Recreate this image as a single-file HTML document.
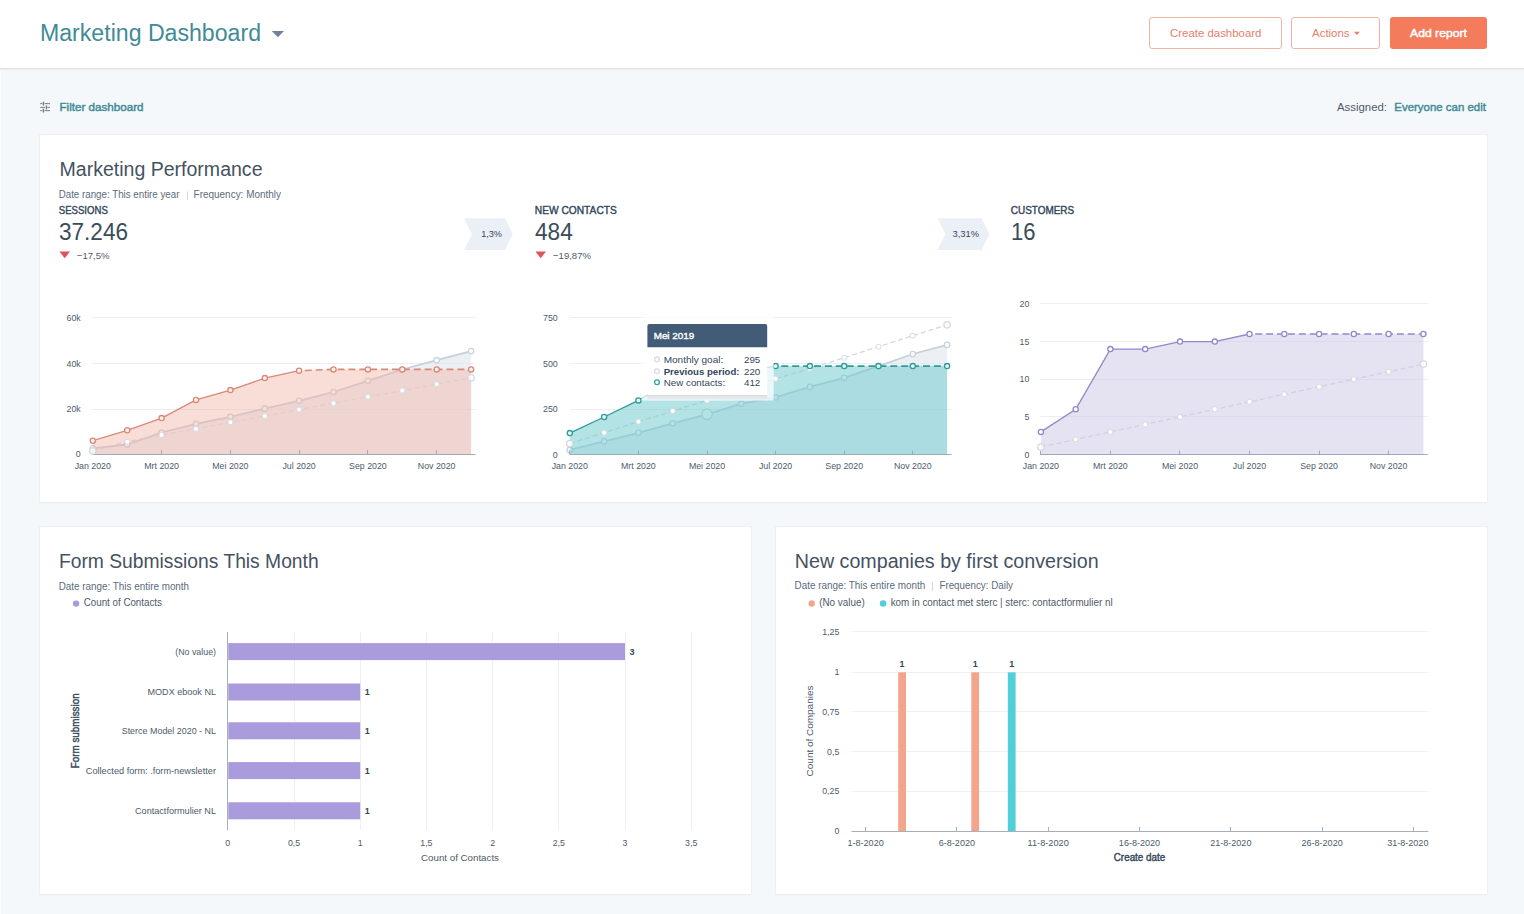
<!DOCTYPE html>
<html><head><meta charset="utf-8"><title>Marketing Dashboard</title>
<style>
*{margin:0;padding:0;box-sizing:border-box}
html,body{width:1524px;height:914px;overflow:hidden;background:#f5f8fa;font-family:"Liberation Sans", sans-serif}
.hdr{position:absolute;left:0;top:0;width:1524px;height:69px;background:#fff;border-bottom:1px solid #e0e4e8;box-shadow:0 1px 0 #ebeef1}
.card{position:absolute;background:#fff;box-shadow:0 0 0 1px #edf0f3, 0 1px 1px 0 rgba(45,62,80,.07)}
.btn{position:absolute;top:17px;height:32px;border-radius:3px}
.btn.o{border:1px solid #f0b4a4;background:#fff}
.btn.f{background:#f47b5b}
svg{position:absolute;left:0;top:0}
</style></head>
<body>
<div class="hdr"></div>
<div style="position:absolute;left:0;top:70px;width:1px;height:844px;background:#fbfdfd"></div>
<div class="card" style="left:40px;top:135px;width:1447px;height:367px"></div>
<div class="card" style="left:40px;top:527px;width:711px;height:367px"></div>
<div class="card" style="left:776px;top:527px;width:711px;height:367px"></div>
<div class="btn o" style="left:1149px;width:133px"></div>
<div class="btn o" style="left:1291px;width:89px"></div>
<div class="btn f" style="left:1390px;width:97px"></div>
<svg width="1524" height="914" viewBox="0 0 1524 914" font-family='"Liberation Sans", sans-serif'>
<text x="40.0" y="41.0" font-size="23" fill="#3f8b96" textLength="221.0" lengthAdjust="spacingAndGlyphs">Marketing Dashboard</text>
<polygon points="271.8,31 284,31 277.9,37.3" fill="#6f8196"/>
<line x1="40.2" y1="103.6" x2="42.1" y2="103.6" stroke="#7b8893" stroke-width="1.1" />
<line x1="44.7" y1="103.6" x2="50.0" y2="103.6" stroke="#7b8893" stroke-width="1.1" />
<rect x="42.7" y="101.7" width="1.4" height="3.8" fill="#6a7782"/>
<line x1="40.2" y1="107.4" x2="45.2" y2="107.4" stroke="#7b8893" stroke-width="1.1" />
<line x1="47.8" y1="107.4" x2="50.0" y2="107.4" stroke="#7b8893" stroke-width="1.1" />
<rect x="45.8" y="105.5" width="1.4" height="3.8" fill="#6a7782"/>
<line x1="40.2" y1="110.6" x2="42.1" y2="110.6" stroke="#7b8893" stroke-width="1.1" />
<line x1="44.7" y1="110.6" x2="50.0" y2="110.6" stroke="#7b8893" stroke-width="1.1" />
<rect x="42.7" y="108.7" width="1.4" height="3.8" fill="#6a7782"/>
<text x="59.5" y="110.8" font-size="11.3" fill="#3f8b96" stroke="#3f8b96" stroke-width="0.43" textLength="84.0" lengthAdjust="spacingAndGlyphs">Filter dashboard</text>
<text x="1337.0" y="110.7" font-size="11.3" fill="#4d5b6a" textLength="50.0" lengthAdjust="spacingAndGlyphs">Assigned:</text>
<text x="1394.3" y="110.7" font-size="11.3" fill="#3f8b96" stroke="#3f8b96" stroke-width="0.43" textLength="91.6" lengthAdjust="spacingAndGlyphs">Everyone can edit</text>
<text x="59.5" y="176.0" font-size="19.5" fill="#45525f" textLength="203.0" lengthAdjust="spacingAndGlyphs">Marketing Performance</text>
<text x="58.7" y="197.9" font-size="10" fill="#5b6b7c" textLength="120.8" lengthAdjust="spacingAndGlyphs">Date range: This entire year</text>
<line x1="187.5" y1="191.3" x2="187.5" y2="199.5" stroke="#cbd6e2" stroke-width="1" />
<text x="193.6" y="197.9" font-size="10" fill="#5b6b7c" textLength="87.4" lengthAdjust="spacingAndGlyphs">Frequency: Monthly</text>
<text x="58.8" y="213.9" font-size="10.4" fill="#33475b" stroke="#33475b" stroke-width="0.40" textLength="49.0" lengthAdjust="spacingAndGlyphs">SESSIONS</text>
<text x="59.0" y="240.0" font-size="23.5" fill="#3a4b5c" textLength="69.0" lengthAdjust="spacingAndGlyphs">37.246</text>
<polygon points="59.4,251.5 70,251.5 64.7,258.3" fill="#e0535f"/>
<text x="77.0" y="258.8" font-size="9.8" fill="#4d5b6a" textLength="32.5" lengthAdjust="spacingAndGlyphs">−17,5%</text>
<text x="534.8" y="213.9" font-size="10.4" fill="#33475b" stroke="#33475b" stroke-width="0.40" textLength="82.0" lengthAdjust="spacingAndGlyphs">NEW CONTACTS</text>
<text x="535.0" y="240.0" font-size="23.5" fill="#3a4b5c" textLength="37.8" lengthAdjust="spacingAndGlyphs">484</text>
<polygon points="535.4,251.5 546,251.5 540.7,258.3" fill="#e0535f"/>
<text x="553.0" y="258.8" font-size="9.8" fill="#4d5b6a" textLength="38.0" lengthAdjust="spacingAndGlyphs">−19,87%</text>
<text x="1010.8" y="213.9" font-size="10.4" fill="#33475b" stroke="#33475b" stroke-width="0.40" textLength="63.3" lengthAdjust="spacingAndGlyphs">CUSTOMERS</text>
<text x="1011.0" y="240.0" font-size="23.5" fill="#3a4b5c" textLength="24.5" lengthAdjust="spacingAndGlyphs">16</text>
<polygon points="464.0,218.3 505.0,218.3 512.7,234.0 505.0,249.9 464.0,249.9 471.8,234.0" fill="#eaf0f6"/>
<text x="481.2" y="236.8" font-size="9.4" fill="#33475b" textLength="20.8" lengthAdjust="spacingAndGlyphs">1,3%</text>
<polygon points="937.6,218.3 981.7,218.3 989.4,234.0 981.7,249.9 937.6,249.9 945.4,234.0" fill="#eaf0f6"/>
<text x="952.5" y="236.8" font-size="9.4" fill="#33475b" textLength="26.5" lengthAdjust="spacingAndGlyphs">3,31%</text>
<line x1="92.0" y1="317.5" x2="475.5" y2="317.5" stroke="#eceef1" stroke-width="1" />
<text x="80.7" y="320.6" font-size="8.8" fill="#4d5b6a" text-anchor="end">60k</text>
<line x1="92.0" y1="363.5" x2="475.5" y2="363.5" stroke="#eceef1" stroke-width="1" />
<text x="80.7" y="366.6" font-size="8.8" fill="#4d5b6a" text-anchor="end">40k</text>
<line x1="92.0" y1="409.5" x2="475.5" y2="409.5" stroke="#eceef1" stroke-width="1" />
<text x="80.7" y="412.1" font-size="8.8" fill="#4d5b6a" text-anchor="end">20k</text>
<text x="80.7" y="457.3" font-size="8.8" fill="#4d5b6a" text-anchor="end">0</text>
<path d="M92.8,451.0 L127.2,441.7 L161.6,435.0 L196.0,428.9 L230.4,422.2 L264.8,416.1 L299.1,409.6 L333.5,403.2 L367.9,396.8 L402.3,390.5 L436.7,384.1 L471.1,377.8" fill="none" stroke="#d2d8df" stroke-width="1.3" stroke-dasharray="5,3"/>
<polygon points="92.8,448.4 127.2,444.5 161.6,432.5 196.0,423.9 230.4,416.8 264.8,408.7 299.1,400.8 333.5,392.0 367.9,380.8 402.3,369.5 436.7,360.2 471.1,351.1 471.1,454.2 92.8,454.2" fill="#dfe6ee" fill-opacity="0.6"/>
<path d="M92.8,448.4 L127.2,444.5 L161.6,432.5 L196.0,423.9 L230.4,416.8 L264.8,408.7 L299.1,400.8 L333.5,392.0 L367.9,380.8 L402.3,369.5 L436.7,360.2 L471.1,351.1" fill="none" stroke="#c6d0da" stroke-width="1.8"/>
<circle cx="92.8" cy="448.4" r="2.7" fill="#fff" stroke="#c9d3dd" stroke-width="1.3"/>
<circle cx="127.2" cy="444.5" r="2.7" fill="#fff" stroke="#c9d3dd" stroke-width="1.3"/>
<circle cx="161.6" cy="432.5" r="2.7" fill="#fff" stroke="#c9d3dd" stroke-width="1.3"/>
<circle cx="196.0" cy="423.9" r="2.7" fill="#fff" stroke="#c9d3dd" stroke-width="1.3"/>
<circle cx="230.4" cy="416.8" r="2.7" fill="#fff" stroke="#c9d3dd" stroke-width="1.3"/>
<circle cx="264.8" cy="408.7" r="2.7" fill="#fff" stroke="#c9d3dd" stroke-width="1.3"/>
<circle cx="299.1" cy="400.8" r="2.7" fill="#fff" stroke="#c9d3dd" stroke-width="1.3"/>
<circle cx="333.5" cy="392.0" r="2.7" fill="#fff" stroke="#c9d3dd" stroke-width="1.3"/>
<circle cx="367.9" cy="380.8" r="2.7" fill="#fff" stroke="#c9d3dd" stroke-width="1.3"/>
<circle cx="402.3" cy="369.5" r="2.7" fill="#fff" stroke="#c9d3dd" stroke-width="1.3"/>
<circle cx="436.7" cy="360.2" r="2.7" fill="#fff" stroke="#c9d3dd" stroke-width="1.3"/>
<circle cx="471.1" cy="351.1" r="2.7" fill="#fff" stroke="#c9d3dd" stroke-width="1.3"/>
<polygon points="92.8,440.7 127.2,430.3 161.6,418.1 196.0,399.9 230.4,390.1 264.8,378.1 299.1,370.7 333.5,369.4 367.9,369.4 402.3,369.4 436.7,369.4 471.1,369.4 471.1,454.2 92.8,454.2" fill="#f2b3a6" fill-opacity="0.45"/>
<line x1="92.0" y1="454.5" x2="475.5" y2="454.5" stroke="#9cabb8" stroke-width="1" />
<line x1="92.5" y1="450.2" x2="92.5" y2="454.2" stroke="#9cabb8" stroke-width="1" />
<text x="92.8" y="468.7" font-size="8.8" fill="#4d5b6a" text-anchor="middle">Jan 2020</text>
<line x1="161.5" y1="450.2" x2="161.5" y2="454.2" stroke="#9cabb8" stroke-width="1" />
<text x="161.6" y="468.7" font-size="8.8" fill="#4d5b6a" text-anchor="middle">Mrt 2020</text>
<line x1="230.5" y1="450.2" x2="230.5" y2="454.2" stroke="#9cabb8" stroke-width="1" />
<text x="230.4" y="468.7" font-size="8.8" fill="#4d5b6a" text-anchor="middle">Mei 2020</text>
<line x1="299.5" y1="450.2" x2="299.5" y2="454.2" stroke="#9cabb8" stroke-width="1" />
<text x="299.1" y="468.7" font-size="8.8" fill="#4d5b6a" text-anchor="middle">Jul 2020</text>
<line x1="367.5" y1="450.2" x2="367.5" y2="454.2" stroke="#9cabb8" stroke-width="1" />
<text x="367.9" y="468.7" font-size="8.8" fill="#4d5b6a" text-anchor="middle">Sep 2020</text>
<line x1="436.5" y1="450.2" x2="436.5" y2="454.2" stroke="#9cabb8" stroke-width="1" />
<text x="436.7" y="468.7" font-size="8.8" fill="#4d5b6a" text-anchor="middle">Nov 2020</text>
<circle cx="92.8" cy="451.0" r="3.2" fill="#fff" fill-opacity="0.8" stroke="#d3dae2" stroke-width="1.3"/>
<circle cx="127.2" cy="441.7" r="2.5" fill="#fff" stroke="#d3d9e0" stroke-opacity="0.8" stroke-width="1.1"/>
<circle cx="161.6" cy="435.0" r="2.5" fill="#fff" stroke="#d3d9e0" stroke-opacity="0.8" stroke-width="1.1"/>
<circle cx="196.0" cy="428.9" r="2.5" fill="#fff" stroke="#d3d9e0" stroke-opacity="0.8" stroke-width="1.1"/>
<circle cx="230.4" cy="422.2" r="2.5" fill="#fff" stroke="#d3d9e0" stroke-opacity="0.8" stroke-width="1.1"/>
<circle cx="264.8" cy="416.1" r="2.5" fill="#fff" stroke="#d3d9e0" stroke-opacity="0.8" stroke-width="1.1"/>
<circle cx="299.1" cy="409.6" r="2.5" fill="#fff" stroke="#d3d9e0" stroke-opacity="0.8" stroke-width="1.1"/>
<circle cx="333.5" cy="403.2" r="2.5" fill="#fff" stroke="#d3d9e0" stroke-opacity="0.8" stroke-width="1.1"/>
<circle cx="367.9" cy="396.8" r="2.5" fill="#fff" stroke="#d3d9e0" stroke-opacity="0.8" stroke-width="1.1"/>
<circle cx="402.3" cy="390.5" r="2.5" fill="#fff" stroke="#d3d9e0" stroke-opacity="0.8" stroke-width="1.1"/>
<circle cx="436.7" cy="384.1" r="2.5" fill="#fff" stroke="#d3d9e0" stroke-opacity="0.8" stroke-width="1.1"/>
<circle cx="471.1" cy="377.8" r="3.2" fill="#fff" fill-opacity="0.8" stroke="#d3dae2" stroke-width="1.3"/>
<path d="M92.8,440.7 L127.2,430.3 L161.6,418.1 L196.0,399.9 L230.4,390.1 L264.8,378.1 L299.1,370.7" fill="none" stroke="#dc8878" stroke-width="1.35"/>
<path d="M299.1,370.7 L333.5,369.4 L367.9,369.4 L402.3,369.4 L436.7,369.4 L471.1,369.4" fill="none" stroke="#dc8878" stroke-width="1.6" stroke-dasharray="7,3.9" stroke-dashoffset="5.2"/>
<circle cx="92.8" cy="440.7" r="2.6" fill="#fdf1ee" stroke="#dc8878" stroke-width="1.3"/>
<circle cx="127.2" cy="430.3" r="2.6" fill="#fdf1ee" stroke="#dc8878" stroke-width="1.3"/>
<circle cx="161.6" cy="418.1" r="2.6" fill="#fdf1ee" stroke="#dc8878" stroke-width="1.3"/>
<circle cx="196.0" cy="399.9" r="2.6" fill="#fdf1ee" stroke="#dc8878" stroke-width="1.3"/>
<circle cx="230.4" cy="390.1" r="2.6" fill="#fdf1ee" stroke="#dc8878" stroke-width="1.3"/>
<circle cx="264.8" cy="378.1" r="2.6" fill="#fdf1ee" stroke="#dc8878" stroke-width="1.3"/>
<circle cx="299.1" cy="370.7" r="2.6" fill="#fdf1ee" stroke="#dc8878" stroke-width="1.3"/>
<circle cx="333.5" cy="369.4" r="2.6" fill="#fdf1ee" stroke="#dc8878" stroke-width="1.3"/>
<circle cx="367.9" cy="369.4" r="2.6" fill="#fdf1ee" stroke="#dc8878" stroke-width="1.3"/>
<circle cx="402.3" cy="369.4" r="2.6" fill="#fdf1ee" stroke="#dc8878" stroke-width="1.3"/>
<circle cx="436.7" cy="369.4" r="2.6" fill="#fdf1ee" stroke="#dc8878" stroke-width="1.3"/>
<circle cx="471.1" cy="369.4" r="2.6" fill="#fdf1ee" stroke="#dc8878" stroke-width="1.3"/>
<line x1="569.8" y1="317.5" x2="951.6" y2="317.5" stroke="#eceef1" stroke-width="1" />
<text x="557.7" y="320.6" font-size="8.8" fill="#4d5b6a" text-anchor="end">750</text>
<line x1="569.8" y1="363.5" x2="951.6" y2="363.5" stroke="#eceef1" stroke-width="1" />
<text x="557.7" y="366.6" font-size="8.8" fill="#4d5b6a" text-anchor="end">500</text>
<line x1="569.8" y1="409.5" x2="951.6" y2="409.5" stroke="#eceef1" stroke-width="1" />
<text x="557.7" y="412.3" font-size="8.8" fill="#4d5b6a" text-anchor="end">250</text>
<text x="557.7" y="457.6" font-size="8.8" fill="#4d5b6a" text-anchor="end">0</text>
<path d="M569.8,443.5 L604.1,432.8 L638.4,421.6 L672.7,411.0 L707.0,400.6 L741.3,389.6 L775.6,378.7 L809.9,368.6 L844.2,357.7 L878.5,346.7 L912.8,335.7 L947.1,324.8" fill="none" stroke="#d2d8df" stroke-width="1.3" stroke-dasharray="5,3"/>
<polygon points="569.8,449.9 604.1,441.3 638.4,432.8 672.7,423.3 707.0,414.3 741.3,403.7 775.6,397.3 809.9,386.9 844.2,377.8 878.5,366.1 912.8,354.0 947.1,344.9 947.1,454.5 569.8,454.5" fill="#dfe6ee" fill-opacity="0.6"/>
<path d="M569.8,449.9 L604.1,441.3 L638.4,432.8 L672.7,423.3 L707.0,414.3 L741.3,403.7 L775.6,397.3 L809.9,386.9 L844.2,377.8 L878.5,366.1 L912.8,354.0 L947.1,344.9" fill="none" stroke="#c6d0da" stroke-width="1.8"/>
<circle cx="569.8" cy="449.9" r="2.7" fill="#fff" stroke="#c9d3dd" stroke-width="1.3"/>
<circle cx="604.1" cy="441.3" r="2.7" fill="#fff" stroke="#c9d3dd" stroke-width="1.3"/>
<circle cx="638.4" cy="432.8" r="2.7" fill="#fff" stroke="#c9d3dd" stroke-width="1.3"/>
<circle cx="672.7" cy="423.3" r="2.7" fill="#fff" stroke="#c9d3dd" stroke-width="1.3"/>
<circle cx="707.0" cy="414.3" r="5.2" fill="#fff" stroke="#c9d3dd" stroke-width="1.3"/>
<circle cx="741.3" cy="403.7" r="2.7" fill="#fff" stroke="#c9d3dd" stroke-width="1.3"/>
<circle cx="775.6" cy="397.3" r="2.7" fill="#fff" stroke="#c9d3dd" stroke-width="1.3"/>
<circle cx="809.9" cy="386.9" r="2.7" fill="#fff" stroke="#c9d3dd" stroke-width="1.3"/>
<circle cx="844.2" cy="377.8" r="2.7" fill="#fff" stroke="#c9d3dd" stroke-width="1.3"/>
<circle cx="878.5" cy="366.1" r="2.7" fill="#fff" stroke="#c9d3dd" stroke-width="1.3"/>
<circle cx="912.8" cy="354.0" r="2.7" fill="#fff" stroke="#c9d3dd" stroke-width="1.3"/>
<circle cx="947.1" cy="344.9" r="2.7" fill="#fff" stroke="#c9d3dd" stroke-width="1.3"/>
<polygon points="569.8,433.1 604.1,417.0 638.4,400.4 672.7,379.6 707.0,379.2 741.3,371.4 775.6,366.1 809.9,366.1 844.2,366.1 878.5,366.1 912.8,366.1 947.1,366.1 947.1,454.5 569.8,454.5" fill="#6fc9cf" fill-opacity="0.52"/>
<line x1="569.8" y1="454.5" x2="951.6" y2="454.5" stroke="#9cabb8" stroke-width="1" />
<line x1="569.5" y1="450.5" x2="569.5" y2="454.5" stroke="#9cabb8" stroke-width="1" />
<text x="569.8" y="468.7" font-size="8.8" fill="#4d5b6a" text-anchor="middle">Jan 2020</text>
<line x1="638.5" y1="450.5" x2="638.5" y2="454.5" stroke="#9cabb8" stroke-width="1" />
<text x="638.4" y="468.7" font-size="8.8" fill="#4d5b6a" text-anchor="middle">Mrt 2020</text>
<line x1="707.5" y1="450.5" x2="707.5" y2="454.5" stroke="#9cabb8" stroke-width="1" />
<text x="707.0" y="468.7" font-size="8.8" fill="#4d5b6a" text-anchor="middle">Mei 2020</text>
<line x1="775.5" y1="450.5" x2="775.5" y2="454.5" stroke="#9cabb8" stroke-width="1" />
<text x="775.6" y="468.7" font-size="8.8" fill="#4d5b6a" text-anchor="middle">Jul 2020</text>
<line x1="844.5" y1="450.5" x2="844.5" y2="454.5" stroke="#9cabb8" stroke-width="1" />
<text x="844.2" y="468.7" font-size="8.8" fill="#4d5b6a" text-anchor="middle">Sep 2020</text>
<line x1="912.5" y1="450.5" x2="912.5" y2="454.5" stroke="#9cabb8" stroke-width="1" />
<text x="912.8" y="468.7" font-size="8.8" fill="#4d5b6a" text-anchor="middle">Nov 2020</text>
<circle cx="569.8" cy="443.5" r="3.2" fill="#fff" fill-opacity="0.8" stroke="#d3dae2" stroke-width="1.3"/>
<circle cx="604.1" cy="432.8" r="2.5" fill="#fff" stroke="#d3d9e0" stroke-opacity="0.8" stroke-width="1.1"/>
<circle cx="638.4" cy="421.6" r="2.5" fill="#fff" stroke="#d3d9e0" stroke-opacity="0.8" stroke-width="1.1"/>
<circle cx="672.7" cy="411.0" r="2.5" fill="#fff" stroke="#d3d9e0" stroke-opacity="0.8" stroke-width="1.1"/>
<circle cx="707.0" cy="400.6" r="2.5" fill="#fff" stroke="#d3d9e0" stroke-opacity="0.8" stroke-width="1.1"/>
<circle cx="741.3" cy="389.6" r="2.5" fill="#fff" stroke="#d3d9e0" stroke-opacity="0.8" stroke-width="1.1"/>
<circle cx="775.6" cy="378.7" r="2.5" fill="#fff" stroke="#d3d9e0" stroke-opacity="0.8" stroke-width="1.1"/>
<circle cx="809.9" cy="368.6" r="2.5" fill="#fff" stroke="#d3d9e0" stroke-opacity="0.8" stroke-width="1.1"/>
<circle cx="844.2" cy="357.7" r="2.5" fill="#fff" stroke="#d3d9e0" stroke-opacity="0.8" stroke-width="1.1"/>
<circle cx="878.5" cy="346.7" r="2.5" fill="#fff" stroke="#d3d9e0" stroke-opacity="0.8" stroke-width="1.1"/>
<circle cx="912.8" cy="335.7" r="2.5" fill="#fff" stroke="#d3d9e0" stroke-opacity="0.8" stroke-width="1.1"/>
<circle cx="947.1" cy="324.8" r="3.2" fill="#fff" fill-opacity="0.8" stroke="#d3dae2" stroke-width="1.3"/>
<path d="M569.8,433.1 L604.1,417.0 L638.4,400.4 L672.7,379.6 L707.0,379.2 L741.3,371.4 L775.6,366.1" fill="none" stroke="#2f9c99" stroke-width="1.35"/>
<path d="M775.6,366.1 L809.9,366.1 L844.2,366.1 L878.5,366.1 L912.8,366.1 L947.1,366.1" fill="none" stroke="#2f9c99" stroke-width="1.6" stroke-dasharray="7,3.9" stroke-dashoffset="5.2"/>
<circle cx="569.8" cy="433.1" r="2.6" fill="#e6f6f6" stroke="#2f9c99" stroke-width="1.3"/>
<circle cx="604.1" cy="417.0" r="2.6" fill="#e6f6f6" stroke="#2f9c99" stroke-width="1.3"/>
<circle cx="638.4" cy="400.4" r="2.6" fill="#e6f6f6" stroke="#2f9c99" stroke-width="1.3"/>
<circle cx="672.7" cy="379.6" r="2.6" fill="#e6f6f6" stroke="#2f9c99" stroke-width="1.3"/>
<circle cx="707.0" cy="379.2" r="2.6" fill="#e6f6f6" stroke="#2f9c99" stroke-width="1.3"/>
<circle cx="741.3" cy="371.4" r="2.6" fill="#e6f6f6" stroke="#2f9c99" stroke-width="1.3"/>
<circle cx="775.6" cy="366.1" r="2.6" fill="#e6f6f6" stroke="#2f9c99" stroke-width="1.3"/>
<circle cx="809.9" cy="366.1" r="2.6" fill="#e6f6f6" stroke="#2f9c99" stroke-width="1.3"/>
<circle cx="844.2" cy="366.1" r="2.6" fill="#e6f6f6" stroke="#2f9c99" stroke-width="1.3"/>
<circle cx="878.5" cy="366.1" r="2.6" fill="#e6f6f6" stroke="#2f9c99" stroke-width="1.3"/>
<circle cx="912.8" cy="366.1" r="2.6" fill="#e6f6f6" stroke="#2f9c99" stroke-width="1.3"/>
<circle cx="947.1" cy="366.1" r="2.6" fill="#e6f6f6" stroke="#2f9c99" stroke-width="1.3"/>
<line x1="1039.9" y1="303.5" x2="1427.6" y2="303.5" stroke="#eceef1" stroke-width="1" />
<text x="1029.4" y="307.0" font-size="8.8" fill="#4d5b6a" text-anchor="end">20</text>
<line x1="1039.9" y1="341.5" x2="1427.6" y2="341.5" stroke="#eceef1" stroke-width="1" />
<text x="1029.4" y="344.8" font-size="8.8" fill="#4d5b6a" text-anchor="end">15</text>
<line x1="1039.9" y1="379.5" x2="1427.6" y2="379.5" stroke="#eceef1" stroke-width="1" />
<text x="1029.4" y="382.2" font-size="8.8" fill="#4d5b6a" text-anchor="end">10</text>
<line x1="1039.9" y1="416.5" x2="1427.6" y2="416.5" stroke="#eceef1" stroke-width="1" />
<text x="1029.4" y="419.6" font-size="8.8" fill="#4d5b6a" text-anchor="end">5</text>
<text x="1029.4" y="457.6" font-size="8.8" fill="#4d5b6a" text-anchor="end">0</text>
<path d="M1040.9,447.0 L1075.7,439.4 L1110.4,431.9 L1145.2,424.4 L1180.0,416.9 L1214.8,409.3 L1249.5,401.8 L1284.3,394.3 L1319.1,386.7 L1353.8,379.2 L1388.6,371.7 L1423.4,364.1" fill="none" stroke="#d2d8df" stroke-width="1.3" stroke-dasharray="5,3"/>
<polygon points="1040.9,431.9 1075.7,409.3 1110.4,349.1 1145.2,349.1 1180.0,341.6 1214.8,341.6 1249.5,334.0 1284.3,334.0 1319.1,334.0 1353.8,334.0 1388.6,334.0 1423.4,334.0 1423.4,454.5 1040.9,454.5" fill="#cfcae6" fill-opacity="0.55"/>
<line x1="1039.9" y1="454.5" x2="1427.6" y2="454.5" stroke="#9cabb8" stroke-width="1" />
<line x1="1040.5" y1="450.5" x2="1040.5" y2="454.5" stroke="#9cabb8" stroke-width="1" />
<text x="1040.9" y="468.7" font-size="8.8" fill="#4d5b6a" text-anchor="middle">Jan 2020</text>
<line x1="1110.5" y1="450.5" x2="1110.5" y2="454.5" stroke="#9cabb8" stroke-width="1" />
<text x="1110.4" y="468.7" font-size="8.8" fill="#4d5b6a" text-anchor="middle">Mrt 2020</text>
<line x1="1179.5" y1="450.5" x2="1179.5" y2="454.5" stroke="#9cabb8" stroke-width="1" />
<text x="1180.0" y="468.7" font-size="8.8" fill="#4d5b6a" text-anchor="middle">Mei 2020</text>
<line x1="1249.5" y1="450.5" x2="1249.5" y2="454.5" stroke="#9cabb8" stroke-width="1" />
<text x="1249.5" y="468.7" font-size="8.8" fill="#4d5b6a" text-anchor="middle">Jul 2020</text>
<line x1="1319.5" y1="450.5" x2="1319.5" y2="454.5" stroke="#9cabb8" stroke-width="1" />
<text x="1319.1" y="468.7" font-size="8.8" fill="#4d5b6a" text-anchor="middle">Sep 2020</text>
<line x1="1388.5" y1="450.5" x2="1388.5" y2="454.5" stroke="#9cabb8" stroke-width="1" />
<text x="1388.6" y="468.7" font-size="8.8" fill="#4d5b6a" text-anchor="middle">Nov 2020</text>
<circle cx="1040.9" cy="447.0" r="3.2" fill="#fff" fill-opacity="0.8" stroke="#d3dae2" stroke-width="1.3"/>
<circle cx="1075.7" cy="439.4" r="2.5" fill="#fff" stroke="#d3d9e0" stroke-opacity="0.8" stroke-width="1.1"/>
<circle cx="1110.4" cy="431.9" r="2.5" fill="#fff" stroke="#d3d9e0" stroke-opacity="0.8" stroke-width="1.1"/>
<circle cx="1145.2" cy="424.4" r="2.5" fill="#fff" stroke="#d3d9e0" stroke-opacity="0.8" stroke-width="1.1"/>
<circle cx="1180.0" cy="416.9" r="2.5" fill="#fff" stroke="#d3d9e0" stroke-opacity="0.8" stroke-width="1.1"/>
<circle cx="1214.8" cy="409.3" r="2.5" fill="#fff" stroke="#d3d9e0" stroke-opacity="0.8" stroke-width="1.1"/>
<circle cx="1249.5" cy="401.8" r="2.5" fill="#fff" stroke="#d3d9e0" stroke-opacity="0.8" stroke-width="1.1"/>
<circle cx="1284.3" cy="394.3" r="2.5" fill="#fff" stroke="#d3d9e0" stroke-opacity="0.8" stroke-width="1.1"/>
<circle cx="1319.1" cy="386.7" r="2.5" fill="#fff" stroke="#d3d9e0" stroke-opacity="0.8" stroke-width="1.1"/>
<circle cx="1353.8" cy="379.2" r="2.5" fill="#fff" stroke="#d3d9e0" stroke-opacity="0.8" stroke-width="1.1"/>
<circle cx="1388.6" cy="371.7" r="2.5" fill="#fff" stroke="#d3d9e0" stroke-opacity="0.8" stroke-width="1.1"/>
<circle cx="1423.4" cy="364.1" r="3.2" fill="#fff" fill-opacity="0.8" stroke="#d3dae2" stroke-width="1.3"/>
<path d="M1040.9,431.9 L1075.7,409.3 L1110.4,349.1 L1145.2,349.1 L1180.0,341.6 L1214.8,341.6 L1249.5,334.0" fill="none" stroke="#9488ca" stroke-width="1.35"/>
<path d="M1249.5,334.0 L1284.3,334.0 L1319.1,334.0 L1353.8,334.0 L1388.6,334.0 L1423.4,334.0" fill="none" stroke="#9488ca" stroke-width="1.6" stroke-dasharray="7,3.9" stroke-dashoffset="5.2"/>
<circle cx="1040.9" cy="431.9" r="2.6" fill="#fff" stroke="#9488ca" stroke-width="1.3"/>
<circle cx="1075.7" cy="409.3" r="2.6" fill="#fff" stroke="#9488ca" stroke-width="1.3"/>
<circle cx="1110.4" cy="349.1" r="2.6" fill="#fff" stroke="#9488ca" stroke-width="1.3"/>
<circle cx="1145.2" cy="349.1" r="2.6" fill="#fff" stroke="#9488ca" stroke-width="1.3"/>
<circle cx="1180.0" cy="341.6" r="2.6" fill="#fff" stroke="#9488ca" stroke-width="1.3"/>
<circle cx="1214.8" cy="341.6" r="2.6" fill="#fff" stroke="#9488ca" stroke-width="1.3"/>
<circle cx="1249.5" cy="334.0" r="2.6" fill="#fff" stroke="#9488ca" stroke-width="1.3"/>
<circle cx="1284.3" cy="334.0" r="2.6" fill="#fff" stroke="#9488ca" stroke-width="1.3"/>
<circle cx="1319.1" cy="334.0" r="2.6" fill="#fff" stroke="#9488ca" stroke-width="1.3"/>
<circle cx="1353.8" cy="334.0" r="2.6" fill="#fff" stroke="#9488ca" stroke-width="1.3"/>
<circle cx="1388.6" cy="334.0" r="2.6" fill="#fff" stroke="#9488ca" stroke-width="1.3"/>
<circle cx="1423.4" cy="334.0" r="2.6" fill="#fff" stroke="#9488ca" stroke-width="1.3"/>
<defs><linearGradient id="tsh" x1="0" y1="0" x2="0" y2="1"><stop offset="0" stop-color="#d5dadd"/><stop offset="1" stop-color="#eef2f3" stop-opacity="0.6"/></linearGradient></defs>
<rect x="641.5" y="316" width="132.2" height="84.5" fill="#fff" fill-opacity="0.72"/>
<rect x="647.4" y="394.8" width="119.8" height="5.7" fill="url(#tsh)"/>
<rect x="647.4" y="324.1" width="119.8" height="70.7" fill="#fff"/>
<path d="M647.4,347.3 V326.1 Q647.4,324.1 649.4,324.1 H765.2 Q767.2,324.1 767.2,326.1 V347.3 Z" fill="#425b76"/>
<text x="653.7" y="338.9" font-size="9.9" fill="#fff" stroke="#fff" stroke-width="0.38" textLength="40.5" lengthAdjust="spacingAndGlyphs">Mei 2019</text>
<circle cx="657" cy="359.4" r="2.4" fill="#fff" stroke="#d8dde3" stroke-width="1.3"/>
<text x="663.7" y="362.7" font-size="9.8" fill="#33475b" textLength="59.6" lengthAdjust="spacingAndGlyphs">Monthly goal:</text>
<text x="760.3" y="362.7" font-size="9.8" fill="#33475b" text-anchor="end">295</text>
<circle cx="657" cy="371.2" r="2.4" fill="#fff" stroke="#d8dde3" stroke-width="1.3"/>
<text x="663.7" y="374.5" font-size="9.8" fill="#33475b" font-weight="700" textLength="75.8" lengthAdjust="spacingAndGlyphs">Previous period:</text>
<text x="760.3" y="374.5" font-size="9.8" fill="#33475b" text-anchor="end">220</text>
<circle cx="657" cy="382.3" r="2.4" fill="#fff" stroke="#2fa7a5" stroke-width="1.3"/>
<text x="663.7" y="385.6" font-size="9.8" fill="#33475b" textLength="61.5" lengthAdjust="spacingAndGlyphs">New contacts:</text>
<text x="760.3" y="385.6" font-size="9.8" fill="#33475b" text-anchor="end">412</text>
<text x="59.0" y="568.0" font-size="20" fill="#45525f" textLength="259.6" lengthAdjust="spacingAndGlyphs">Form Submissions This Month</text>
<text x="58.7" y="590.0" font-size="10" fill="#5b6b7c" textLength="130.4" lengthAdjust="spacingAndGlyphs">Date range: This entire month</text>
<circle cx="76.1" cy="603.6" r="3.2" fill="#a99bdc"/>
<text x="83.8" y="606.2" font-size="10" fill="#4d5b6a" textLength="78.1" lengthAdjust="spacingAndGlyphs">Count of Contacts</text>
<line x1="294.5" y1="632.0" x2="294.5" y2="830.2" stroke="#eff0f2" stroke-width="1" />
<line x1="360.5" y1="632.0" x2="360.5" y2="830.2" stroke="#eff0f2" stroke-width="1" />
<line x1="426.5" y1="632.0" x2="426.5" y2="830.2" stroke="#eff0f2" stroke-width="1" />
<line x1="492.5" y1="632.0" x2="492.5" y2="830.2" stroke="#eff0f2" stroke-width="1" />
<line x1="558.5" y1="632.0" x2="558.5" y2="830.2" stroke="#eff0f2" stroke-width="1" />
<line x1="625.5" y1="632.0" x2="625.5" y2="830.2" stroke="#eff0f2" stroke-width="1" />
<line x1="691.5" y1="632.0" x2="691.5" y2="830.2" stroke="#eff0f2" stroke-width="1" />
<line x1="227.5" y1="632.0" x2="227.5" y2="830.2" stroke="#a5b0bb" stroke-width="1" />
<rect x="228.3" y="643.1" width="396.7" height="17" fill="#a99bdc"/>
<text x="216.0" y="655.0" font-size="9.6" fill="#4d5b6a" text-anchor="end" textLength="40.7" lengthAdjust="spacingAndGlyphs">(No value)</text>
<text x="629.5" y="655.0" font-size="9" fill="#33475b" font-weight="700">3</text>
<rect x="228.3" y="683.5" width="131.9" height="17" fill="#a99bdc"/>
<text x="216.0" y="695.4" font-size="9.6" fill="#4d5b6a" text-anchor="end" textLength="68.5" lengthAdjust="spacingAndGlyphs">MODX ebook NL</text>
<text x="364.7" y="695.4" font-size="9" fill="#33475b" font-weight="700">1</text>
<rect x="228.3" y="722.3" width="131.9" height="17" fill="#a99bdc"/>
<text x="216.0" y="734.2" font-size="9.6" fill="#4d5b6a" text-anchor="end" textLength="94.3" lengthAdjust="spacingAndGlyphs">Sterce Model 2020 - NL</text>
<text x="364.7" y="734.2" font-size="9" fill="#33475b" font-weight="700">1</text>
<rect x="228.3" y="762.1" width="131.9" height="17" fill="#a99bdc"/>
<text x="216.0" y="774.0" font-size="9.6" fill="#4d5b6a" text-anchor="end" textLength="130.2" lengthAdjust="spacingAndGlyphs">Collected form: .form-newsletter</text>
<text x="364.7" y="774.0" font-size="9" fill="#33475b" font-weight="700">1</text>
<rect x="228.3" y="802.3" width="131.9" height="17" fill="#a99bdc"/>
<text x="216.0" y="814.2" font-size="9.6" fill="#4d5b6a" text-anchor="end" textLength="81.0" lengthAdjust="spacingAndGlyphs">Contactformulier NL</text>
<text x="364.7" y="814.2" font-size="9" fill="#33475b" font-weight="700">1</text>
<text x="227.8" y="845.9" font-size="8.8" fill="#4d5b6a" text-anchor="middle">0</text>
<text x="294.0" y="845.9" font-size="8.8" fill="#4d5b6a" text-anchor="middle">0,5</text>
<text x="360.2" y="845.9" font-size="8.8" fill="#4d5b6a" text-anchor="middle">1</text>
<text x="426.4" y="845.9" font-size="8.8" fill="#4d5b6a" text-anchor="middle">1,5</text>
<text x="492.6" y="845.9" font-size="8.8" fill="#4d5b6a" text-anchor="middle">2</text>
<text x="558.8" y="845.9" font-size="8.8" fill="#4d5b6a" text-anchor="middle">2,5</text>
<text x="625.0" y="845.9" font-size="8.8" fill="#4d5b6a" text-anchor="middle">3</text>
<text x="691.2" y="845.9" font-size="8.8" fill="#4d5b6a" text-anchor="middle">3,5</text>
<text x="460.0" y="860.7" font-size="9.6" fill="#4d5b6a" text-anchor="middle" textLength="78.0" lengthAdjust="spacingAndGlyphs">Count of Contacts</text>
<text x="0.0" y="0.0" font-size="10.4" fill="#33475b" stroke="#33475b" stroke-width="0.40" text-anchor="middle" textLength="74.8" lengthAdjust="spacingAndGlyphs" transform="translate(79,730.8) rotate(-90)">Form submission</text>
<text x="794.8" y="567.7" font-size="20" fill="#45525f" textLength="303.8" lengthAdjust="spacingAndGlyphs">New companies by first conversion</text>
<text x="794.5" y="589.4" font-size="10" fill="#5b6b7c" textLength="130.8" lengthAdjust="spacingAndGlyphs">Date range: This entire month</text>
<line x1="932.5" y1="582.5" x2="932.5" y2="591.0" stroke="#cbd6e2" stroke-width="1" />
<text x="939.4" y="589.4" font-size="10" fill="#5b6b7c" textLength="73.6" lengthAdjust="spacingAndGlyphs">Frequency: Daily</text>
<circle cx="811.7" cy="603.5" r="3.2" fill="#f2a48c"/>
<text x="819.2" y="606.1" font-size="10" fill="#4d5b6a" textLength="45.5" lengthAdjust="spacingAndGlyphs">(No value)</text>
<circle cx="883.1" cy="603.5" r="3.2" fill="#4fd0d7"/>
<text x="890.7" y="606.1" font-size="10" fill="#4d5b6a" textLength="221.9" lengthAdjust="spacingAndGlyphs">kom in contact met sterc | sterc: contactformulier nl</text>
<line x1="851.5" y1="631.5" x2="1428.3" y2="631.5" stroke="#eef1f4" stroke-width="1" />
<text x="839.3" y="634.6" font-size="8.8" fill="#4d5b6a" text-anchor="end">1,25</text>
<line x1="851.5" y1="672.5" x2="1428.3" y2="672.5" stroke="#eef1f4" stroke-width="1" />
<text x="839.3" y="675.1" font-size="8.8" fill="#4d5b6a" text-anchor="end">1</text>
<line x1="851.5" y1="711.5" x2="1428.3" y2="711.5" stroke="#eef1f4" stroke-width="1" />
<text x="839.3" y="715.0" font-size="8.8" fill="#4d5b6a" text-anchor="end">0,75</text>
<line x1="851.5" y1="751.5" x2="1428.3" y2="751.5" stroke="#eef1f4" stroke-width="1" />
<text x="839.3" y="754.5" font-size="8.8" fill="#4d5b6a" text-anchor="end">0,5</text>
<line x1="851.5" y1="791.5" x2="1428.3" y2="791.5" stroke="#eef1f4" stroke-width="1" />
<text x="839.3" y="794.4" font-size="8.8" fill="#4d5b6a" text-anchor="end">0,25</text>
<text x="839.3" y="834.1" font-size="8.8" fill="#4d5b6a" text-anchor="end">0</text>
<line x1="851.5" y1="831.5" x2="1428.3" y2="831.5" stroke="#a5b0bb" stroke-width="1" />
<line x1="865.5" y1="827.0" x2="865.5" y2="831.0" stroke="#a5b0bb" stroke-width="1" />
<text x="865.6" y="845.5" font-size="8.8" fill="#4d5b6a" text-anchor="middle" textLength="36.3" lengthAdjust="spacingAndGlyphs">1-8-2020</text>
<line x1="956.5" y1="827.0" x2="956.5" y2="831.0" stroke="#a5b0bb" stroke-width="1" />
<text x="956.9" y="845.5" font-size="8.8" fill="#4d5b6a" text-anchor="middle" textLength="36.3" lengthAdjust="spacingAndGlyphs">6-8-2020</text>
<line x1="1048.5" y1="827.0" x2="1048.5" y2="831.0" stroke="#a5b0bb" stroke-width="1" />
<text x="1048.2" y="845.5" font-size="8.8" fill="#4d5b6a" text-anchor="middle" textLength="41.3" lengthAdjust="spacingAndGlyphs">11-8-2020</text>
<line x1="1139.5" y1="827.0" x2="1139.5" y2="831.0" stroke="#a5b0bb" stroke-width="1" />
<text x="1139.5" y="845.5" font-size="8.8" fill="#4d5b6a" text-anchor="middle" textLength="41.3" lengthAdjust="spacingAndGlyphs">16-8-2020</text>
<line x1="1230.5" y1="827.0" x2="1230.5" y2="831.0" stroke="#a5b0bb" stroke-width="1" />
<text x="1230.8" y="845.5" font-size="8.8" fill="#4d5b6a" text-anchor="middle" textLength="41.3" lengthAdjust="spacingAndGlyphs">21-8-2020</text>
<line x1="1322.5" y1="827.0" x2="1322.5" y2="831.0" stroke="#a5b0bb" stroke-width="1" />
<text x="1322.1" y="845.5" font-size="8.8" fill="#4d5b6a" text-anchor="middle" textLength="41.3" lengthAdjust="spacingAndGlyphs">26-8-2020</text>
<line x1="1413.5" y1="827.0" x2="1413.5" y2="831.0" stroke="#a5b0bb" stroke-width="1" />
<text x="1407.8" y="845.5" font-size="8.8" fill="#4d5b6a" text-anchor="middle" textLength="41.3" lengthAdjust="spacingAndGlyphs">31-8-2020</text>
<rect x="898.2" y="672.3" width="7.8" height="158.7" fill="#f2a48c"/>
<text x="902.1" y="667.0" font-size="9" fill="#33475b" font-weight="700" text-anchor="middle">1</text>
<rect x="971.3" y="672.3" width="7.8" height="158.7" fill="#f2a48c"/>
<text x="975.2" y="667.0" font-size="9" fill="#33475b" font-weight="700" text-anchor="middle">1</text>
<rect x="1007.8" y="672.3" width="7.8" height="158.7" fill="#4fd0d7"/>
<text x="1011.7" y="667.0" font-size="9" fill="#33475b" font-weight="700" text-anchor="middle">1</text>
<text x="1139.5" y="861.0" font-size="10" fill="#33475b" stroke="#33475b" stroke-width="0.38" text-anchor="middle" textLength="51.5" lengthAdjust="spacingAndGlyphs">Create date</text>
<text x="0.0" y="0.0" font-size="9.6" fill="#4d5b6a" text-anchor="middle" textLength="90.8" lengthAdjust="spacingAndGlyphs" transform="translate(813.3,731) rotate(-90)">Count of Companies</text>
<text x="1170.0" y="36.8" font-size="11.4" fill="#e6806a" textLength="91.4" lengthAdjust="spacingAndGlyphs">Create dashboard</text>
<text x="1312.0" y="36.8" font-size="11.4" fill="#e6806a" textLength="37.6" lengthAdjust="spacingAndGlyphs">Actions</text>
<polygon points="1353.9,31.8 1359.9,31.8 1356.9,34.9" fill="#e6806a"/>
<text x="1410.0" y="36.8" font-size="11.6" fill="#fff" textLength="57.0" lengthAdjust="spacingAndGlyphs" stroke="#fff" stroke-width="0.45">Add report</text>
</svg>
</body></html>
